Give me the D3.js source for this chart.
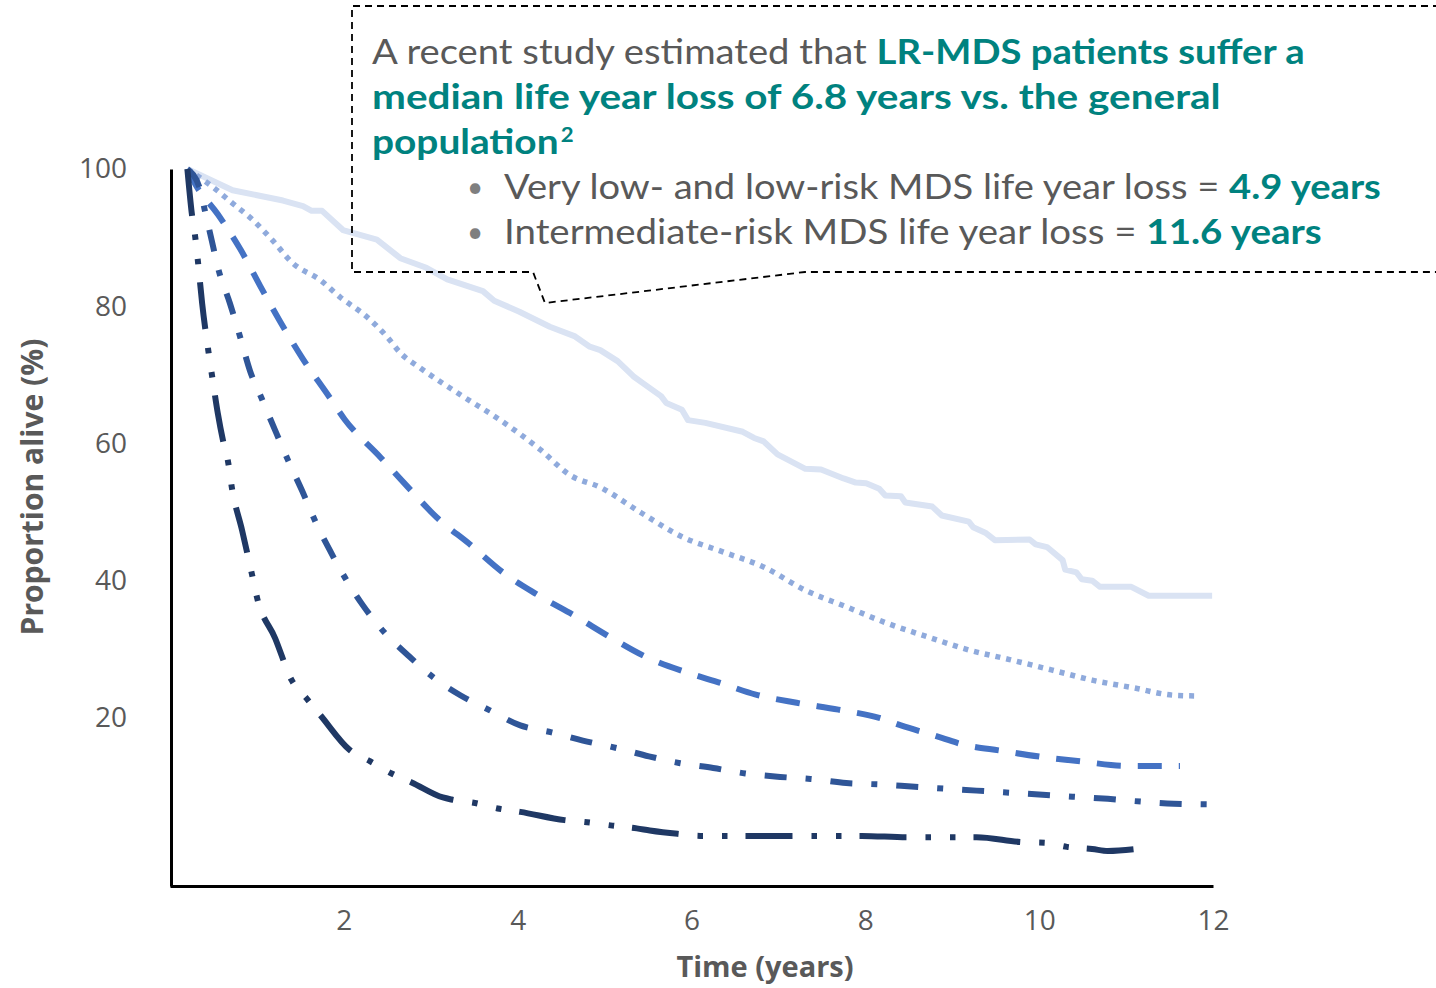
<!DOCTYPE html>
<html>
<head>
<meta charset="utf-8">
<script src="https://cdn.jsdelivr.net/npm/d3@7/dist/d3.min.js"></script>
<style>
  body { margin: 0; background: #ffffff; }
  svg { display: block; }
  .tick text { font-family: "Open Sans", "Noto Sans", sans-serif; font-size: 28px; fill: #595959; }
</style>
</head>
<body>
<svg id="chart" width="1436" height="988"></svg>
<script>
// Survival curves: [time in years, proportion alive in %]
const generalPopulation = [
  [0.2,100],[0.72,96.9],[1.30,95.4],[1.53,94.6],[1.63,93.9],[1.75,93.9],[1.99,91.1],
  [2.38,89.7],[2.65,87.0],[2.95,85.6],[3.19,83.9],[3.60,82.2],[3.73,80.8],[4.02,79.2],
  [4.37,77.0],[4.66,75.6],[4.83,74.1],[4.95,73.6],[5.15,72.0],[5.33,69.8],[5.44,68.8],
  [5.65,66.9],[5.71,65.9],[5.89,64.9],[5.96,63.4],[6.16,63.0],[6.59,61.7],[6.72,60.8],
  [6.83,60.3],[6.99,58.4],[7.31,56.3],[7.49,56.2],[7.75,54.9],[7.89,54.3],[8.01,54.2],
  [8.16,53.4],[8.23,52.4],[8.41,52.3],[8.46,51.4],[8.77,50.8],[8.88,49.5],[9.19,48.6],
  [9.24,47.8],[9.38,47.0],[9.49,45.9],[9.89,46.0],[9.96,45.3],[10.09,44.9],[10.27,43.0],
  [10.30,41.6],[10.43,41.2],[10.49,40.2],[10.61,40.0],[10.70,39.1],[11.06,39.1],
  [11.26,37.8],[11.99,37.8]
];
const veryLowRisk = [
  [0.2,100],[0.49,97.4],[0.72,95.0],[0.95,92.6],[1.18,89.6],[1.41,86.3],[1.73,83.8],
  [1.96,81.3],[2.27,78.4],[2.50,75.5],[2.65,73.2],[2.88,71.0],[3.34,67.1],[3.80,63.4],
  [4.26,59.1],[4.60,55.4],[4.95,53.6],[5.42,49.9],[5.89,46.4],[6.36,44.2],[6.83,42.0],
  [7.31,38.6],[7.78,36.2],[8.25,33.8],[8.72,31.8],[9.19,29.9],[9.66,28.5],[10.14,27.0],
  [10.61,25.5],[11.08,24.4],[11.55,23.3],[11.80,23.2]
];
const lowRisk = [
  [0.2,100],[0.29,97.8],[0.55,93.4],[0.81,88.3],[1.04,82.9],[1.27,77.7],[1.53,72.3],
  [1.81,67.2],[2.01,63.5],[2.42,58.0],[2.74,53.6],[3.07,49.2],[3.45,45.3],[3.83,41.2],
  [4.22,38.0],[4.68,34.7],[5.06,31.8],[5.49,28.8],[5.95,26.6],[6.33,25.1],[6.74,23.4],
  [7.21,22.2],[7.69,21.2],[8.16,20.0],[8.41,18.9],[8.88,17.1],[9.10,16.2],[9.57,15.2],
  [10.04,14.3],[10.52,13.6],[11.01,13.0],[11.62,13.0]
];
const intermediateRisk = [
  [0.2,100],[0.35,96.9],[0.40,94.0],[0.48,89.6],[0.55,85.7],[0.69,80.4],[0.81,75.4],
  [0.92,70.6],[1.06,66.4],[1.21,61.9],[1.36,57.5],[1.52,53.1],[1.67,48.7],[1.84,44.4],
  [2.02,40.3],[2.22,36.4],[2.47,32.4],[2.74,29.1],[3.03,25.9],[3.34,23.3],[3.68,21.1],
  [4.03,18.9],[4.39,17.9],[4.75,16.7],[5.14,15.6],[5.51,14.4],[5.87,13.4],[6.25,12.7],
  [6.62,11.9],[7.02,11.4],[7.37,11.1],[7.78,10.5],[8.16,10.3],[8.53,10.0],[8.90,9.7],
  [9.28,9.4],[9.66,9.1],[10.04,8.8],[10.41,8.5],[10.79,8.2],[11.17,7.8],[11.55,7.5],
  [11.95,7.4]
];
const highRisk = [
  [0.2,100],[0.25,93.6],[0.29,90.1],[0.32,86.7],[0.37,80.4],[0.44,73.6],[0.48,70.2],
  [0.55,64.4],[0.61,60.4],[0.67,57.2],[0.71,53.7],[0.83,47.3],[0.94,41.1],[1.00,37.6],
  [1.21,31.6],[1.40,25.5],[1.58,22.7],[1.73,20.4],[2.07,15.3],[2.30,13.7],[2.55,11.9],
  [2.78,10.6],[3.14,8.4],[3.24,8.1],[3.51,7.6],[3.77,6.8],[4.03,6.3],[4.54,5.1],
  [4.80,4.8],[5.09,4.3],[5.37,3.9],[5.52,3.6],[5.84,3.1],[6.10,2.8],[6.36,2.8],
  [7.17,2.8],[7.96,2.8],[8.48,2.6],[9.28,2.6],[9.80,1.9],[10.07,1.8],[10.32,1.2],
  [10.61,0.9],[10.79,0.6],[11.12,0.9]
];

const xTicks = [2, 4, 6, 8, 10, 12];
const yTicks = [20, 40, 60, 80, 100];

const svg = d3.select("#chart");

const x = d3.scaleLinear().domain([0, 12]).range([170, 1213]);
const y = d3.scaleLinear().domain([-4.5, 100]).range([886, 169]);

// Series styling, drawn back to front
const series = [
  { data: generalPopulation, color: "#dae3f3", width: 6,   dash: null,                    curve: d3.curveLinear },
  { data: veryLowRisk,       color: "#8faadc", width: 5.5, dash: "5,6",                   curve: d3.curveMonotoneX },
  { data: lowRisk,           color: "#4472c4", width: 6,   dash: "24,17",                 curve: d3.curveMonotoneX },
  { data: intermediateRisk,  color: "#2f5597", width: 6,   dash: "22,19,6,19",            curve: d3.curveMonotoneX },
  { data: highRisk,          color: "#1f3864", width: 6,   dash: "47,19,5.5,19,5.5,18",   curve: d3.curveMonotoneX }
];

series.forEach(s => {
  const line = d3.line().x(d => x(d[0])).y(d => y(d[1])).curve(s.curve);
  svg.append("path")
    .datum(s.data)
    .attr("fill", "none")
    .attr("stroke", s.color)
    .attr("stroke-width", s.width)
    .attr("stroke-linejoin", "round")
    .attr("stroke-dasharray", s.dash)
    .attr("d", line);
});

// Axes
const yAxis = svg.append("g")
  .attr("transform", "translate(171,0)")
  .call(d3.axisLeft(y).tickValues(yTicks).tickSizeInner(0).tickSizeOuter(0).tickPadding(44));
const xAxis = svg.append("g")
  .attr("transform", "translate(0,886)")
  .call(d3.axisBottom(x).tickValues(xTicks).tickSizeInner(0).tickSizeOuter(0).tickPadding(24));
[yAxis, xAxis].forEach(g => {
  g.select(".domain").attr("stroke", "#000").attr("stroke-width", 3);
});

// Axis titles
svg.append("text")
  .attr("transform", "translate(43,487) rotate(-90)")
  .attr("text-anchor", "middle")
  .style("font-family", "'Open Sans', 'Noto Sans', sans-serif")
  .style("font-size", "30px").style("font-weight", "700")
  .attr("fill", "#595959")
  .text("Proportion alive (%)");
svg.append("text")
  .attr("x", 765).attr("y", 977)
  .attr("text-anchor", "middle")
  .style("font-family", "'Open Sans', 'Noto Sans', sans-serif")
  .style("font-size", "29px").style("font-weight", "700")
  .attr("fill", "#595959")
  .text("Time (years)");

// Callout box with pointer
svg.append("path")
  .attr("d", "M1440,6 H352 V272 H533 L545,303 L805,272 H1440")
  .attr("fill", "none")
  .attr("stroke", "#000")
  .attr("stroke-width", 1.8)
  .attr("stroke-dasharray", "7,5");

const grey = "#595959", teal = "#00827f";
const calloutLines = [
  { x: 372, y: 64, w: 933, parts: [["A recent study estimated that ", grey, 400], ["LR-MDS patients suffer a", teal, 700]] },
  { x: 372, y: 109, w: 849, parts: [["median life year loss of 6.8 years vs. the general", teal, 700]] },
  { x: 372, y: 154, w: null, parts: [["population", teal, 700]], sup: "2" },
  { x: 504, y: 199, w: 877, parts: [["Very low- and low-risk MDS life year loss = ", grey, 400], ["4.9 years", teal, 700]], bullet: true },
  { x: 504, y: 244, w: 818, parts: [["Intermediate-risk MDS life year loss = ", grey, 400], ["11.6 years", teal, 700]], bullet: true }
];

const scales = [];
const nodes = calloutLines.map(l => {
  const g = svg.append("g");
  const t = g.append("text")
    .style("font-family", "Lato, 'Open Sans', sans-serif")
    .style("font-size", "35px");
  l.parts.forEach(p => {
    t.append("tspan").attr("fill", p[1]).style("font-weight", p[2]).text(p[0]);
  });
  if (l.sup) {
    t.append("tspan").attr("fill", teal).style("font-weight", 700)
      .style("font-size", "20px").attr("dx", 2).attr("dy", -12).text(l.sup);
  }
  if (l.w) scales.push(l.w / t.node().getComputedTextLength());
  if (l.bullet) {
    svg.append("text").attr("x", 475).attr("y", l.y - 2).attr("text-anchor", "middle")
      .style("font-family", "Lato, 'Open Sans', sans-serif").style("font-size", "28px")
      .attr("fill", "#7f7f7f").text("\u2022");
  }
  return { g, t, l };
});
const meanScale = d3.mean(scales);
nodes.forEach(({ g, t, l }) => {
  const s = l.w ? l.w / t.node().getComputedTextLength() : meanScale;
  g.attr("transform", `translate(${l.x},${l.y}) scale(${s},1)`);
});
</script>
</body>
</html>
